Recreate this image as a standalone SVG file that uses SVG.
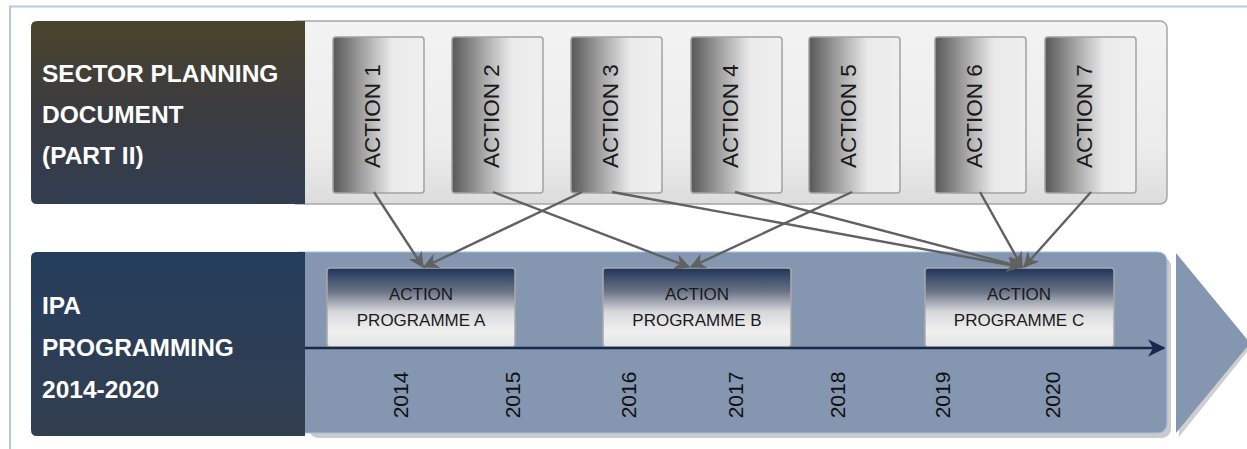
<svg xmlns="http://www.w3.org/2000/svg" width="1247" height="449" viewBox="0 0 1247 449">
<defs>
<linearGradient id="gTopDark" x1="0" y1="0" x2="0" y2="1">
<stop offset="0" stop-color="#4b432c"/>
<stop offset="0.5" stop-color="#3b3c41"/>
<stop offset="1" stop-color="#313d50"/>
</linearGradient>
<linearGradient id="gBotDark" x1="0" y1="0" x2="0" y2="1">
<stop offset="0" stop-color="#243d5c"/>
<stop offset="1" stop-color="#333f50"/>
</linearGradient>
<linearGradient id="gPanel" x1="0" y1="0" x2="0" y2="1">
<stop offset="0" stop-color="#f3f3f3"/>
<stop offset="0.7" stop-color="#ececec"/>
<stop offset="1" stop-color="#dcdcdc"/>
</linearGradient>
<linearGradient id="gAction" x1="0" y1="0" x2="1" y2="0">
<stop offset="0" stop-color="#585858"/>
<stop offset="0.35" stop-color="#a8a8a8"/>
<stop offset="0.65" stop-color="#eaeaea"/>
<stop offset="1" stop-color="#efefef"/>
</linearGradient>
<linearGradient id="gProg" x1="0" y1="0" x2="0" y2="1">
<stop offset="0" stop-color="#1f3459"/>
<stop offset="0.3" stop-color="#6b7487"/>
<stop offset="0.55" stop-color="#d6d7da"/>
<stop offset="0.8" stop-color="#f0f0f0"/>
<stop offset="1" stop-color="#e4e4e4"/>
</linearGradient>
<marker id="arr" viewBox="0 0 12 12" refX="11" refY="6" markerWidth="6.5" markerHeight="6.5" orient="auto" markerUnits="strokeWidth">
<path d="M0,0 L12,6 L0,12 L3.5,6 z" fill="#616161"/>
</marker>
<marker id="arrNavy" viewBox="0 0 12 12" refX="11" refY="6" markerWidth="7" markerHeight="7" orient="auto" markerUnits="strokeWidth">
<path d="M0,0 L12,6 L0,12 L3.5,6 z" fill="#17294a"/>
</marker>
</defs>
<style>
.title{font-family:"Liberation Sans",Arial,sans-serif;font-weight:bold;font-size:24.5px;fill:#ffffff}
.act{font-family:"Liberation Sans",Arial,sans-serif;font-size:22.5px;fill:#1a1a1a;text-anchor:middle}
.prog{font-family:"Liberation Sans",Arial,sans-serif;font-size:17px;fill:#1a1a1a;text-anchor:middle}
.year{font-family:"Liberation Sans",Arial,sans-serif;font-size:21px;fill:#111111;text-anchor:middle}
.abox{fill:url(#gAction);stroke:#a2a2a2;stroke-width:1.5}
.pbox{fill:url(#gProg);stroke:#a9a9a9;stroke-width:1.5}
.conn{stroke:#616161;stroke-width:2.4;fill:none;marker-end:url(#arr)}
</style>

<!-- frame -->
<path d="M10,449 L10,6.5 L1247,6.5" fill="none" stroke="#b8c8dc" stroke-width="2"/>

<!-- top band -->
<g id="top-band">
<rect x="290" y="21" width="877" height="183" rx="7" fill="url(#gPanel)" stroke="#a6a6a6" stroke-width="1.5"/>
<path d="M37,21 L305,21 L305,204 L37,204 Q31,204 31,198 L31,27 Q31,21 37,21 z" fill="url(#gTopDark)"/>
<text class="title" x="42" y="82">SECTOR PLANNING</text>
<text class="title" x="42" y="123">DOCUMENT</text>
<text class="title" x="42" y="164">(PART II)</text>
</g>

<g id="action1"><rect class="abox" x="333" y="37" width="91" height="156" rx="3"/><text class="act" transform="translate(380,116) rotate(-90)">ACTION 1</text></g>
<g id="action2"><rect class="abox" x="452" y="37" width="91" height="156" rx="3"/><text class="act" transform="translate(499,116) rotate(-90)">ACTION 2</text></g>
<g id="action3"><rect class="abox" x="571" y="37" width="91" height="156" rx="3"/><text class="act" transform="translate(618,116) rotate(-90)">ACTION 3</text></g>
<g id="action4"><rect class="abox" x="691" y="37" width="91" height="156" rx="3"/><text class="act" transform="translate(738,116) rotate(-90)">ACTION 4</text></g>
<g id="action5"><rect class="abox" x="809" y="37" width="91" height="156" rx="3"/><text class="act" transform="translate(856,116) rotate(-90)">ACTION 5</text></g>
<g id="action6"><rect class="abox" x="935" y="37" width="91" height="156" rx="3"/><text class="act" transform="translate(982,116) rotate(-90)">ACTION 6</text></g>
<g id="action7"><rect class="abox" x="1045" y="37" width="91" height="156" rx="3"/><text class="act" transform="translate(1092,116) rotate(-90)">ACTION 7</text></g>

<!-- bottom band -->
<g id="bottom-band">
<rect x="309" y="257" width="862" height="181" rx="9" fill="#cbcbcb"/>
<rect x="290" y="252" width="877" height="181" rx="9" fill="#8496b0" stroke="#a3bde0" stroke-width="1.2"/>
<path d="M37,252 L305,252 L305,436 L37,436 Q31,436 31,430 L31,258 Q31,252 37,252 z" fill="url(#gBotDark)"/>
<text class="title" x="42" y="314">IPA</text>
<text class="title" x="42" y="356">PROGRAMMING</text>
<text class="title" x="42" y="398">2014-2020</text>
</g>

<g id="big-arrow">
<polygon points="1179,258 1251,347 1179,437" fill="#cfcfcf"/>
<polygon points="1176,253 1250,343 1176,433" fill="#8496b0"/>
</g>

<g id="progA"><rect class="pbox" x="327" y="268" width="188" height="79" rx="3"/><text class="prog" x="421" y="300">ACTION</text><text class="prog" x="421" y="326">PROGRAMME A</text></g>
<g id="progB"><rect class="pbox" x="603" y="268" width="188" height="79" rx="3"/><text class="prog" x="697" y="300">ACTION</text><text class="prog" x="697" y="326">PROGRAMME B</text></g>
<g id="progC"><rect class="pbox" x="925" y="268" width="189" height="79" rx="3"/><text class="prog" x="1019" y="300">ACTION</text><text class="prog" x="1019" y="326">PROGRAMME C</text></g>

<g id="timeline">
<line x1="305" y1="348" x2="1164" y2="348" stroke="#17294a" stroke-width="2.5" marker-end="url(#arrNavy)"/>
<text class="year" transform="translate(408,395) rotate(-90)">2014</text>
<text class="year" transform="translate(520,395) rotate(-90)">2015</text>
<text class="year" transform="translate(636,395) rotate(-90)">2016</text>
<text class="year" transform="translate(743,395) rotate(-90)">2017</text>
<text class="year" transform="translate(845,395) rotate(-90)">2018</text>
<text class="year" transform="translate(950,395) rotate(-90)">2019</text>
<text class="year" transform="translate(1060,395) rotate(-90)">2020</text>
</g>

<g id="connectors">
<line class="conn" x1="374" y1="192" x2="423" y2="267"/>
<line class="conn" x1="582" y1="192" x2="424" y2="267"/>
<line class="conn" x1="493" y1="192" x2="689" y2="267"/>
<line class="conn" x1="852" y1="192" x2="691" y2="267"/>
<line class="conn" x1="612" y1="192" x2="1021" y2="267"/>
<line class="conn" x1="735" y1="192" x2="1022" y2="267"/>
<line class="conn" x1="980" y1="192" x2="1022" y2="267"/>
<line class="conn" x1="1091" y1="192" x2="1024" y2="267"/>
</g>
</svg>
